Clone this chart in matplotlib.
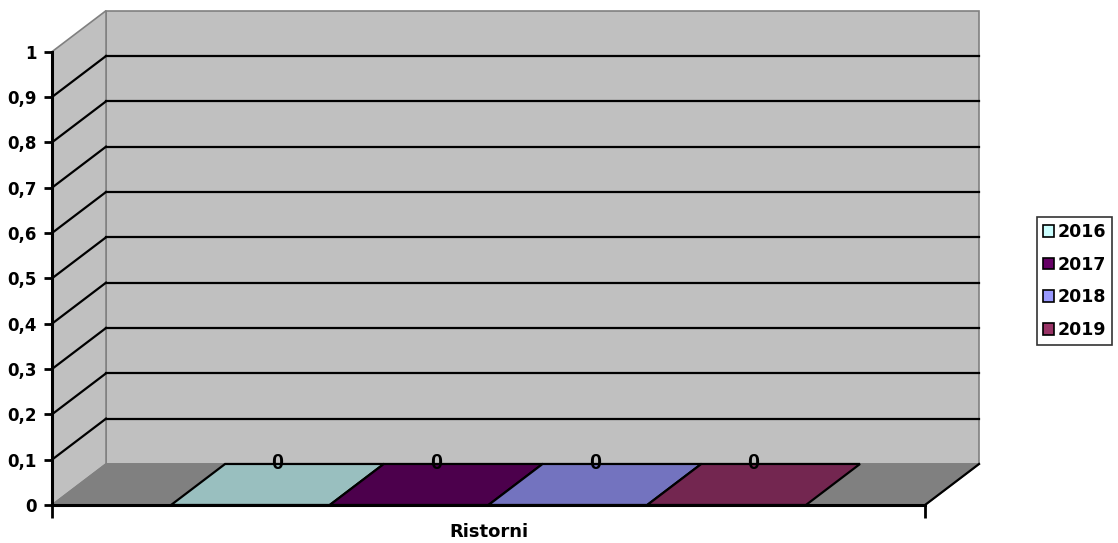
import matplotlib
matplotlib.use("Agg")
import matplotlib.pyplot as plt
from matplotlib.patches import Polygon, Patch

# ── data ────────────────────────────────────────────────────────────────────
category = "Ristorni"
years = ["2016", "2017", "2018", "2019"]
values = [0, 0, 0, 0]
y_ticks = [0, 0.1, 0.2, 0.3, 0.4, 0.5, 0.6, 0.7, 0.8, 0.9, 1.0]

# ── style ───────────────────────────────────────────────────────────────────
plt.rcParams["font.family"] = ["DejaVu Sans"]
plt.rcParams["font.weight"] = "bold"
LEG_COL = ["#CCFFFF", "#660066", "#9999FF", "#993366"]      # series colours
TOP_COL = ["#99BFBF", "#4C004C", "#7373BF", "#732650"]      # shaded top faces
WALL, FLOOR, EDGE = "#C0C0C0", "#808080", "#808080"
DX, DY = 0.0619, 0.0905          # depth offset (x in category units, y in value units)
GAP = 1.5                        # gap width, as a multiple of one bar

fig = plt.figure(figsize=(11.18, 5.43), dpi=100)
ax = fig.add_axes([52 / 1118, 38 / 543, 873 / 1118, 453.3 / 543])
ax.set_xlim(0, 1); ax.set_ylim(0, 1)
for s in ax.spines.values():
    s.set_visible(False)

def poly(pts, fc, ec, lw, z):
    ax.add_patch(Polygon(pts, closed=True, facecolor=fc, edgecolor=ec, lw=lw,
                         zorder=z, clip_on=False, joinstyle="miter"))

# walls and floor
poly([(DX, DY), (1 + DX, DY), (1 + DX, 1 + DY), (DX, 1 + DY)], WALL, EDGE, 1.2, 1)
poly([(0, 0), (DX, DY), (DX, 1 + DY), (0, 1)], WALL, EDGE, 1.2, 1)
poly([(0, 0), (1, 0), (1 + DX, DY), (DX, DY)], FLOOR, EDGE, 1.2, 1)

# gridlines on back and side wall
for v in y_ticks[1:-1]:
    ax.plot([DX, 1 + DX], [v + DY, v + DY], color="black", lw=1.6, zorder=2, clip_on=False)
    ax.plot([0, DX], [v, v + DY], color="black", lw=1.6, zorder=2, clip_on=False)

# bars (zero height -> only the top face shows)
w = 1 / (len(years) + GAP)
for i, (v, c) in enumerate(zip(values, TOP_COL)):
    x0 = GAP * w / 2 + i * w
    x1 = x0 + w
    poly([(x0, v), (x1, v), (x1 + DX, v + DY), (x0 + DX, v + DY)], c, "black", 1.6, 3)
    ax.text((x0 + x1 + DX) / 2, v + DY, f"{v:g}", ha="center", va="center",
            fontsize=15.5, fontweight="bold", family="Liberation Sans", zorder=5)

# front axis lines and floor right edge
ax.plot([0, 1], [0, 0], color="black", lw=2.2, zorder=4, clip_on=False)
ax.plot([0, 0], [0, 1], color="black", lw=2.2, zorder=4, clip_on=False)
ax.plot([1, 1 + DX], [0, DY], color="black", lw=1.6, zorder=4, clip_on=False)

ax.set_yticks(y_ticks)
ax.set_yticklabels([f"{t:g}".replace(".", ",") for t in y_ticks], fontsize=12, fontweight="bold")
ax.set_xticks([0, 1])
ax.set_xticklabels(["", ""])
ax.tick_params(axis="y", length=6, width=2, pad=5)
ax.tick_params(axis="x", length=9, width=2)
ax.text(0.5, -0.06, category, transform=ax.transAxes, ha="center", va="center",
        fontsize=13, fontweight="bold")

handles = [Patch(facecolor=c, edgecolor="black", lw=1.2, label=y) for c, y in zip(LEG_COL, years)]
leg = fig.legend(handles=handles, loc="center left", bbox_to_anchor=(1037 / 1118, 1 - 281 / 543),
                 frameon=True, fancybox=False, edgecolor="black", fontsize=12.5,
                 handlelength=0.65, handleheight=0.65, handletextpad=0.2,
                 labelspacing=0.85, borderpad=0.35, borderaxespad=0)
leg.get_frame().set_linewidth(1.2)
for t in leg.get_texts():
    t.set_fontweight("bold")

fig.savefig("out.png", dpi=100)
